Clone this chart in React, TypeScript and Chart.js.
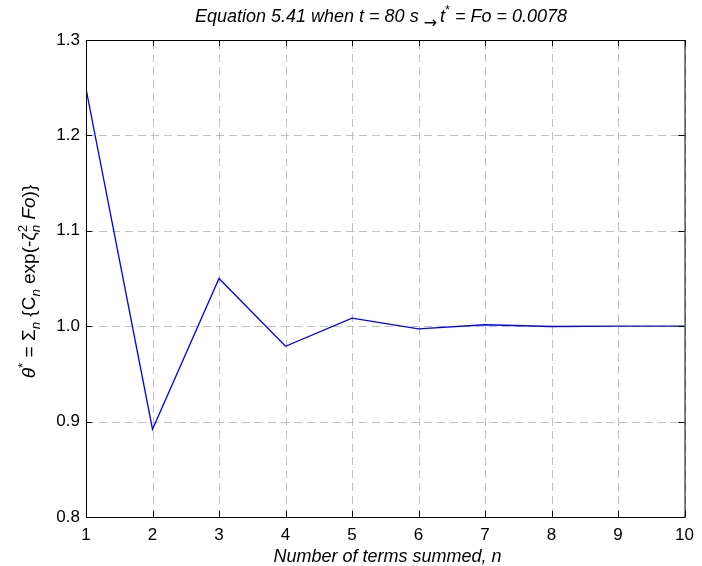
import React, { useEffect, useRef } from "react";
import { Chart, registerables } from "chart.js";

Chart.register(...registerables);

const nTerms = [1, 2, 3, 4, 5, 6, 7, 8, 9, 10];
const thetaValues = [1.249, 0.892, 1.05, 0.979, 1.0085, 0.9973, 1.0015, 0.9997, 1.0001, 1.0];
const yMin = 0.8;
const yMax = 1.3;
const yStep = 0.1;
const xMin = 1;
const xMax = 10;

const FAMILY = '"Liberation Sans", Arial, Helvetica, sans-serif';
const ARROW_FAMILY = '"DejaVu Sans", sans-serif';

type Seg = {
  t: string;
  it?: boolean;
  sup?: string;
  sub?: string;
  supIt?: boolean;
  subIt?: boolean;
  dy?: number;
  size?: number;
  fam?: string;
  gap?: number;
};

const titleSegs: Seg[] = [
  { t: "Equation 5.41 when t = 80 s ", it: true },
  { t: "\u2192", dy: 6, size: 16, fam: ARROW_FAMILY, gap: 3 },
  { t: "t", it: true, sup: "*" },
  { t: " = Fo = 0.0078", it: true },
];

const yLabelSegs: Seg[] = [
  { t: "\u03B8", it: true, sup: "*" },
  { t: " = \u03A3", sub: "n", subIt: true },
  { t: " {C", sub: "n", subIt: true },
  { t: " exp(-\u03B6", sup: "2", sub: "n", subIt: true },
  { t: " Fo", it: true },
  { t: ")}" },
];

const xLabel = "Number of terms summed, n";

function font(size: number, it?: boolean, fam?: string) {
  return `${it ? "italic " : ""}${size}px ${fam ?? FAMILY}`;
}

function measureRich(ctx: CanvasRenderingContext2D, segs: Seg[], size: number) {
  let w = 0;
  for (const s of segs) {
    ctx.font = font(s.size ?? size, s.it, s.fam);
    w += ctx.measureText(s.t).width + (s.gap ?? 0);
    const small = size * 0.7;
    let sw = 0;
    if (s.sup) {
      ctx.font = font(small, s.supIt);
      sw = Math.max(sw, ctx.measureText(s.sup).width);
    }
    if (s.sub) {
      ctx.font = font(small, s.subIt);
      sw = Math.max(sw, ctx.measureText(s.sub).width);
    }
    w += sw;
  }
  return w;
}

function drawRich(ctx: CanvasRenderingContext2D, segs: Seg[], x: number, y: number, size: number) {
  let cx = x;
  ctx.textAlign = "left";
  ctx.textBaseline = "alphabetic";
  for (const s of segs) {
    ctx.font = font(s.size ?? size, s.it, s.fam);
    ctx.fillText(s.t, cx, y + (s.dy ?? 0));
    cx += ctx.measureText(s.t).width + (s.gap ?? 0);
    const small = size * 0.7;
    let sw = 0;
    if (s.sup) {
      ctx.font = font(small, s.supIt);
      ctx.fillText(s.sup, cx, y - size * 0.42);
      sw = Math.max(sw, ctx.measureText(s.sup).width);
    }
    if (s.sub) {
      ctx.font = font(small, s.subIt);
      ctx.fillText(s.sub, cx, y + size * 0.25);
      sw = Math.max(sw, ctx.measureText(s.sub).width);
    }
    cx += sw;
  }
}

const decorPlugin = {
  id: "decor",
  beforeDatasetsDraw(chart: any) {
    const { ctx, chartArea } = chart;
    const xs = chart.scales.x;
    const ys = chart.scales.y;
    ctx.save();
    ctx.strokeStyle = "#c0c0c0";
    ctx.lineWidth = 1;
    ctx.setLineDash([8, 5]);
    for (const t of xs.ticks) {
      const px = Math.round(xs.getPixelForValue(t.value)) + 0.5;
      ctx.beginPath();
      ctx.moveTo(px, chartArea.bottom);
      ctx.lineTo(px, chartArea.top);
      ctx.stroke();
    }
    for (const t of ys.ticks) {
      const py = Math.round(ys.getPixelForValue(t.value)) + 0.5;
      ctx.beginPath();
      ctx.moveTo(chartArea.left, py);
      ctx.lineTo(chartArea.right, py);
      ctx.stroke();
    }
    ctx.restore();
  },
  afterDatasetsDraw(chart: any) {
    const { ctx, chartArea } = chart;
    const { left, right, top, bottom } = chartArea;
    const xs = chart.scales.x;
    const ys = chart.scales.y;
    ctx.save();
    ctx.setLineDash([]);
    ctx.strokeStyle = "#000";
    ctx.lineWidth = 1;
    ctx.strokeRect(left + 0.5, top + 0.5, right - left, bottom - top);
    const tl = 6;
    ctx.beginPath();
    for (const t of xs.ticks) {
      const px = Math.round(xs.getPixelForValue(t.value)) + 0.5;
      ctx.moveTo(px, bottom);
      ctx.lineTo(px, bottom - tl);
      ctx.moveTo(px, top);
      ctx.lineTo(px, top + tl);
    }
    for (const t of ys.ticks) {
      const py = Math.round(ys.getPixelForValue(t.value)) + 0.5;
      ctx.moveTo(left, py);
      ctx.lineTo(left + tl, py);
      ctx.moveTo(right, py);
      ctx.lineTo(right - tl, py);
    }
    ctx.stroke();

    ctx.fillStyle = "#000";
    // title
    const tSize = 18;
    const tw = measureRich(ctx, titleSegs, tSize);
    drawRich(ctx, titleSegs, 381 - tw / 2, 22, tSize);

    // x label
    ctx.font = font(18, true);
    ctx.textAlign = "center";
    ctx.textBaseline = "alphabetic";
    ctx.fillText(xLabel, 387.5, 562);

    // y label
    const ySize = 19;
    ctx.save();
    ctx.translate(35, 281.5);
    ctx.rotate(-Math.PI / 2);
    const yw = measureRich(ctx, yLabelSegs, ySize);
    drawRich(ctx, yLabelSegs, -yw / 2, 0, ySize);
    ctx.restore();

    ctx.restore();
  },
};

export default function App() {
  const ref = useRef<HTMLCanvasElement | null>(null);
  useEffect(() => {
    if (!ref.current) return;
    const chart = new Chart(ref.current, {
      type: "line",
      data: {
        datasets: [
          {
            data: nTerms.map((n, i) => ({ x: n, y: thetaValues[i] })),
            borderColor: "#0000ff",
            borderWidth: 1.3,
            pointRadius: 0,
            tension: 0,
            fill: false,
          },
        ],
      },
      options: {
        animation: false,
        responsive: true,
        maintainAspectRatio: false,
        layout: { padding: { left: 0, top: 40, right: 9, bottom: 0 } },
        plugins: {
          legend: { display: false },
          tooltip: { enabled: false },
          title: { display: false },
        },
        scales: {
          x: {
            type: "linear",
            min: xMin,
            max: xMax,
            ticks: {
              stepSize: 1,
              color: "#000",
              padding: 8,
              font: { family: FAMILY, size: 17 },
              maxRotation: 0,
            },
            grid: { display: false, drawTicks: false },
            border: { display: false },
            afterFit: (s: any) => {
              s.height = 49;
            },
          },
          y: {
            type: "linear",
            min: yMin,
            max: yMax,
            ticks: {
              stepSize: yStep,
              color: "#000",
              padding: 6,
              font: { family: FAMILY, size: 17 },
              callback: (v: any) => Number(v).toFixed(1),
            },
            grid: { display: false, drawTicks: false },
            border: { display: false },
            afterFit: (s: any) => {
              s.width = 86;
            },
          },
        },
      },
      plugins: [decorPlugin],
    });
    return () => chart.destroy();
  }, []);
  return (
    <div style={{ position: "absolute", left: 0, top: 0, width: 702, height: 566, background: "#fff" }}>
      <canvas ref={ref} />
    </div>
  );
}
